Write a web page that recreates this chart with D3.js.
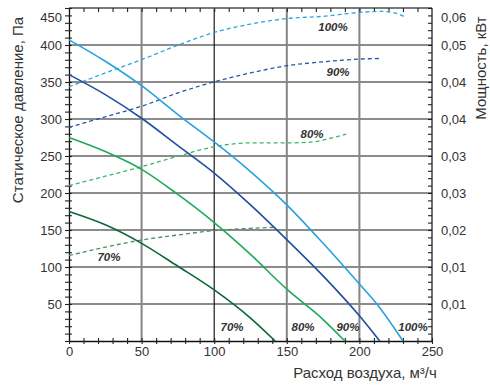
<!DOCTYPE html>
<html><head><meta charset="utf-8">
<script src="https://cdn.jsdelivr.net/npm/d3@7/dist/d3.min.js"></script>
<style>
html,body{margin:0;padding:0;background:#fff;}
svg{display:block;font-family:"Liberation Sans",Arial,sans-serif;}
</style></head>
<body><svg id="c" width="490" height="387"></svg>
<script>
// ---- data ----
const flow100 = [0,25,50,75,100,125,150,175,200,212,230];
const pa100   = [407,378,345,306,269,229,184,132,77,50,0];
const flow90  = [0,25,50,75,100,125,150,175,200,214];
const pa90    = [360,333,301,264,227,184,137,88,34,0];
const flow80  = [0,25,50,75,100,125,150,175,190];
const pa80    = [275,256,232,198,160,117,70,29,0];
const flow70  = [0,25,50,75,100,125,142];
const pa70    = [175,157,132,101,69,31,0];

const pflow100 = [0,25,50,75,100,125,150,175,200,214,226,231];
const kw100    = [0.0458,0.0483,0.0507,0.0533,0.0556,0.0571,0.0581,0.0585,0.0592,0.0594,0.0590,0.0584];
const pflow90  = [0,25,50,75,100,125,150,175,200,214];
const kw90     = [0.0385,0.0404,0.0423,0.0447,0.0467,0.0483,0.0496,0.0503,0.0508,0.0509];
const pflow80  = [0,25,50,75,100,125,150,165,175,183,191];
const kw80     = [0.0280,0.0297,0.0314,0.0333,0.0350,0.0357,0.0357,0.0358,0.0362,0.0367,0.0373];
const pflow70  = [0,25,50,75,100,125,143];
const kw70     = [0.0154,0.0169,0.0182,0.0191,0.0199,0.0203,0.0205];

const xTicks = [0,50,100,150,200,250];
const yTicks = [50,100,150,200,250,300,350,400,450];
const rTickValues = [0.00667,0.01333,0.02,0.02667,0.03333,0.04,0.04667,0.05333,0.06];
const rTickLabels = ["0,01","0,01","0,02","0,03","0,03","0,04","0,04","0,05","0,06"];
const speeds = ["100%","90%","80%","70%"];
const colors = {"100%":"#27a2dd","90%":"#1f4f9e","80%":"#1eaa58","70%":"#0c6638"};
const dashColors = {"100%":"#2aa3df","90%":"#2656a3","80%":"#3ab66a","70%":"#4f8c62"};

// ---- scales ----
const x = d3.scaleLinear().domain([0,250]).range([69,432]);
const y = d3.scaleLinear().domain([0,450]).range([341,8]);
const yR = d3.scaleLinear().domain([0,0.06]).range([341,8]);

const svg = d3.select("#c");
const g = svg.append("g");

// grid
const gridY = [50,100,150,200,250,300,350,400];
g.selectAll(".gy").data(gridY).enter().append("line")
  .attr("x1",x(0)).attr("x2",x(250)).attr("y1",d=>y(d)).attr("y2",d=>y(d))
  .attr("stroke","#1a1a1a").attr("stroke-width",1.2);
const gridX = [50,100,150,200];
g.selectAll(".gx").data(gridX).enter().append("line")
  .attr("y1",y(0)).attr("y2",y(450)).attr("x1",d=>x(d)).attr("x2",d=>x(d))
  .attr("stroke",d=>d===100?"#1a1a1a":"#858585").attr("stroke-width",d=>d===100?1.2:2);

// top border
g.append("line").attr("x1",x(0)).attr("x2",x(250)).attr("y1",y(450)).attr("y2",y(450))
  .attr("stroke","#7a7a7a").attr("stroke-width",2);

const minorX = d3.range(0,251,10);
const minorY = d3.range(0,451,10);
const minorR = minorY.map(v=>v*0.06/450);

function styleAxis(sel){
  sel.selectAll("path").attr("stroke","#111").attr("stroke-width",1.3);
  sel.selectAll("line").attr("stroke","#222").attr("stroke-width",1.1);
}
// left axis: crossing ticks
const la = g.append("g").attr("transform",`translate(${x(0)},0)`)
  .call(d3.axisLeft(y).tickValues(minorY).tickSize(4).tickSizeOuter(0).tickFormat(""));
styleAxis(la);
const la2 = g.append("g").attr("transform",`translate(${x(0)},0)`)
  .call(d3.axisRight(y).tickValues(minorY).tickSize(3).tickSizeOuter(0).tickFormat(""));
styleAxis(la2);
la2.select("path").remove();
// left labels
const ll = g.append("g").attr("transform",`translate(${x(0)},0)`)
  .call(d3.axisLeft(y).tickValues(yTicks).tickSize(0).tickPadding(7).tickFormat(d=>d));
ll.select("path").remove();
ll.selectAll("text").attr("font-size",13).attr("fill","#333").attr("font-family","Liberation Sans, Arial, sans-serif")
  .attr("dy",d=>d===450?"1.0em":"0.35em");

// bottom axis: crossing ticks
const ba = g.append("g").attr("transform",`translate(0,${y(0)})`)
  .call(d3.axisBottom(x).tickValues(minorX).tickSize(3).tickSizeOuter(0).tickFormat(""));
styleAxis(ba);
const ba2 = g.append("g").attr("transform",`translate(0,${y(0)})`)
  .call(d3.axisTop(x).tickValues(minorX.filter(v=>v>0)).tickSize(3).tickSizeOuter(0).tickFormat(""));
styleAxis(ba2); ba2.select("path").remove();
const bl = g.append("g").attr("transform",`translate(0,${y(0)})`)
  .call(d3.axisBottom(x).tickValues(xTicks).tickSize(0).tickPadding(6).tickFormat(d=>d));
bl.select("path").remove();
bl.selectAll("text").attr("font-size",13).attr("fill","#333").attr("font-family","Liberation Sans, Arial, sans-serif");

// top ticks
const ta = g.append("g").attr("transform",`translate(0,${y(450)})`)
  .call(d3.axisBottom(x).tickValues(minorX.filter(v=>v>0&&v<250)).tickSize(4).tickSizeOuter(0).tickFormat(""));
styleAxis(ta); ta.select("path").remove();

// right axis
const ra = g.append("g").attr("transform",`translate(${x(250)},0)`)
  .call(d3.axisLeft(yR).tickValues(minorR).tickSize(4).tickSizeOuter(0).tickFormat(""));
styleAxis(ra);
ra.select("path").remove();
g.append("line").attr("x1",x(250)).attr("x2",x(250)).attr("y1",yR(0)).attr("y2",yR(0.06))
  .attr("stroke","#222").attr("stroke-width",1.3);
const rl = g.append("g").attr("transform",`translate(${x(250)},0)`)
  .call(d3.axisRight(yR).tickValues(rTickValues).tickSize(0).tickPadding(9).tickFormat((d,i)=>rTickLabels[i]));
rl.select("path").remove();
rl.selectAll("text").attr("font-size",13).attr("fill","#333").attr("font-family","Liberation Sans, Arial, sans-serif")
  .attr("dy",(d,i)=>i===rTickValues.length-1?"1.0em":"0.35em");

// curves
const solid = [["100%",flow100,pa100],["90%",flow90,pa90],["80%",flow80,pa80],["70%",flow70,pa70]];
const dashed = [["100%",pflow100,kw100],["90%",pflow90,kw90],["80%",pflow80,kw80],["70%",pflow70,kw70]];
const lineP = d3.line().x(d=>x(d[0])).y(d=>y(d[1])).curve(d3.curveMonotoneX);
const lineK = d3.line().x(d=>x(d[0])).y(d=>yR(d[1])).curve(d3.curveMonotoneX);
dashed.forEach(([k,fx,fy])=>{
  g.append("path").datum(fx.map((v,i)=>[v,fy[i]])).attr("d",lineK)
   .attr("fill","none").attr("stroke",dashColors[k]).attr("stroke-width",1.3).attr("stroke-dasharray","4,3");
});
solid.forEach(([k,fx,fy])=>{
  g.append("path").datum(fx.map((v,i)=>[v,fy[i]])).attr("d",lineP)
   .attr("fill","none").attr("stroke",colors[k]).attr("stroke-width",1.6);
});

// percent labels (flow, Pa)
const lbls = [["100%",181.8,424.7],["90%",185.3,363.5],["80%",167.4,279.7],["70%",27.5,113.9],
  ["70%",112.3,18.5],["80%",161.2,18.5],["90%",192.1,18.5],["100%",236.9,18.5]];
g.selectAll(".pl").data(lbls).enter().append("text")
  .attr("x",d=>x(d[1])).attr("y",d=>y(d[2])).attr("dy","0.35em")
  .attr("text-anchor","middle").attr("font-size",11.5).attr("font-weight","bold").attr("font-style","italic")
  .attr("fill","#333").text(d=>d[0]);

// axis titles
svg.append("text").attr("transform","translate(23,110) rotate(-90)").attr("text-anchor","middle")
  .attr("font-size",15).attr("fill","#333").text("Статическое давление, Па");
svg.append("text").attr("transform","translate(486,68) rotate(-90)").attr("text-anchor","middle")
  .attr("font-size",15).attr("fill","#333").text("Мощность, кВт");
svg.append("text").attr("x",365).attr("y",378).attr("text-anchor","middle")
  .attr("font-size",15).attr("fill","#333").text("Расход воздуха, м³/ч");
</script></body></html>
